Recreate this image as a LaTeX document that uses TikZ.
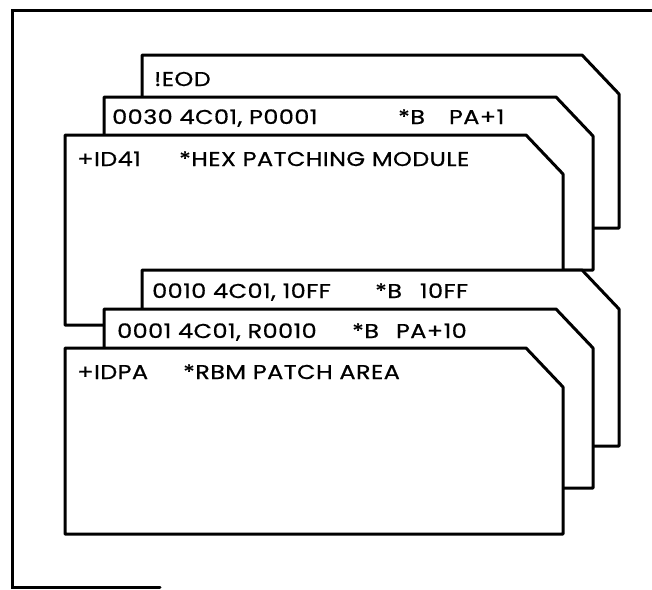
\documentclass[tikz,border=0pt]{standalone}
\usepackage{fontspec}
\newfontfamily\cardfont[FakeStretch=1.2, LetterSpace=2, FakeBold=0.6]{Poppins}
\usepackage{tikz}
\usetikzlibrary{positioning}

\begin{document}
\begin{tikzpicture}[
    x=1pt, y=-1pt,
    card/.style={draw=black, fill=white, line width=3pt, line join=round},
    frame/.style={draw=black, line width=3pt, line cap=round},
    cardtext/.style={anchor=base west, inner sep=0pt, font=\cardfont\fontsize{20}{24}\selectfont}
  ]
    \useasboundingbox (0,0) rectangle (652,589);
    \draw[frame] (652,10) -- (12,10) -- (12,587) -- (160,587);

    % upper deck
    \draw[card] (142,228) -- (142,55) -- (582,55) -- (619,94) -- (619,228) -- cycle;
    \draw[card] (104,270) -- (104,97) -- (556,97) -- (593,136) -- (593,270) -- cycle;
    \draw[card] (65,325) -- (65,135) -- (526,135) -- (563,174) -- (563,325) -- cycle;
    % lower deck
    \draw[card] (142,446) -- (142,270) -- (582,270) -- (619,309) -- (619,446) -- cycle;
    \draw[card] (104,488) -- (104,309) -- (556,309) -- (593,348) -- (593,488) -- cycle;
    \draw[card] (65,534) -- (65,348) -- (526,348) -- (563,387) -- (563,534) -- cycle;

    \node[cardtext] (eod) at (154,86) {!EOD};
    \node[cardtext] (p30) at (112,124) {0030 4C01, P0001};
    \node[cardtext] (p30b) at (398,124) {*B\hspace{24pt}PA+1};
    \node[cardtext] (id41) at (77,166) {+ID41};
    \node[cardtext] (id41c) at (179,166) {*HEX PATCHING MODULE};
    \node[cardtext] (p10) at (152,298) {0010 4C01, 10FF};
    \node[cardtext] (p10b) at (375,298) {*B\hspace{18pt}10FF};
    \node[cardtext] (p01) at (117,338) {0001 4C01, R0010};
    \node[cardtext] (p01b) at (352,338) {*B\hspace{17pt}PA+10};
    \node[cardtext] (idpa) at (77,379) {+IDPA};
    \node[cardtext] (idpac) at (183,379) {*RBM PATCH AREA};
  \end{tikzpicture}
\end{document}
